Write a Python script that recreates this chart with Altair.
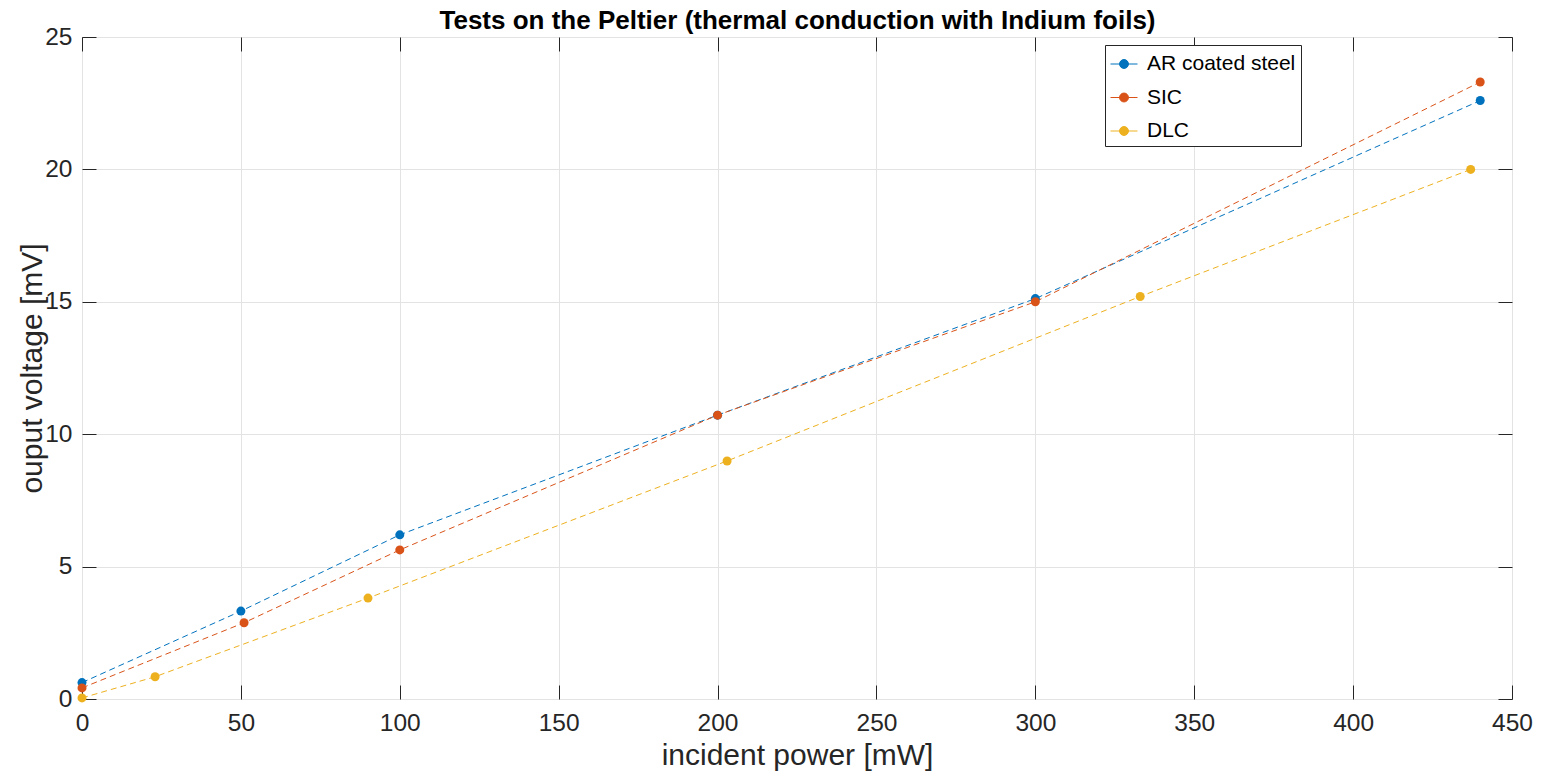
import altair as alt
import pandas as pd

chart_title = "Tests on the Peltier (thermal conduction with Indium foils)"
series_names = ["AR coated steel", "SIC", "DLC"]
series_colors = ["#0072BD", "#D95319", "#EDB120"]

ar_x = [0, 50, 100, 200, 300, 440]
ar_y = [0.62, 3.32, 6.2, 10.72, 15.12, 22.6]
sic_x = [0, 51, 100, 200, 300, 440]
sic_y = [0.42, 2.88, 5.63, 10.72, 15.0, 23.3]
dlc_x = [0, 23, 90, 203, 333, 437]
dlc_y = [0.04, 0.84, 3.81, 8.99, 15.2, 20.0]

x_ticks = [0, 50, 100, 150, 200, 250, 300, 350, 400, 450]
y_ticks = [0, 5, 10, 15, 20, 25]

rows = []
for name, xs, ys in zip(series_names, [ar_x, sic_x, dlc_x], [ar_y, sic_y, dlc_y]):
    for i, (xv, yv) in enumerate(zip(xs, ys)):
        rows.append({"series": name, "power": xv, "voltage": yv, "order": i})
df = pd.DataFrame(rows)

W, H = 1430, 662
FONT = "Liberation Sans"
INK = "#262626"
GRID = "#e3e3e3"

xscale = alt.Scale(domain=[0, 450], nice=False, zero=False)
yscale = alt.Scale(domain=[0, 25], nice=False, zero=False)

main_x = alt.Axis(
    orient="bottom", values=x_ticks, title="incident power [mW]", grid=True,
    gridColor=GRID, ticks=False, domain=False, labelFontSize=24.5, labelColor=INK,
    labelPadding=12, labelFont=FONT, labelFlush=False, titleFont=FONT, titleFontSize=30,
    titleFontWeight="normal", titleColor=INK, titleX=W / 2, titleY=65,
    titleBaseline="alphabetic", titleAlign="center",
)
main_y = alt.Axis(
    orient="left", values=y_ticks, title="ouput voltage [mV]", grid=True,
    gridColor=GRID, ticks=False, domain=False, labelFontSize=24.5, labelColor=INK,
    labelPadding=10, labelFont=FONT, labelFlush=False, titleFont=FONT, titleFontSize=30,
    titleFontWeight="normal", titleColor=INK, titleX=-41, titleY=H / 2,
    titleBaseline="alphabetic", titleAlign="center", titleAngle=-90,
)

def tick_axis(orient, offset, values, **kw):
    return alt.Axis(orient=orient, offset=offset, values=values, labels=False,
                    ticks=True, tickSize=14, tickColor=INK, tickWidth=1,
                    domain=False, grid=False, minExtent=0, maxExtent=0, **kw)

# top frame axis carries the chart title
top_axis = tick_axis(
    "bottom", -H, x_ticks, title=chart_title, titleFont=FONT, titleFontSize=26,
    titleFontWeight="bold", titleColor="black", titleX=W / 2, titleY=-9,
    titleAlign="center", titleBaseline="alphabetic",
)

sym_path = "M-1,0H1M0.33,0A0.33,0.33,0,1,1,-0.33,0A0.33,0.33,0,1,1,0.33,0Z"

color = alt.Color(
    "series:N",
    scale=alt.Scale(domain=series_names, range=series_colors),
    sort=series_names,
    legend=alt.Legend(
        orient="none", legendX=1023, legendY=8, title=None,
        symbolType=sym_path, symbolSize=729, symbolStrokeWidth=1,
        labelFontSize=21, labelFont=FONT, labelColor="black",
        strokeColor=INK, fillColor="white", padding=5, rowPadding=9.5,
        labelOffset=9,
    ),
)

base = alt.Chart(df)

lines = base.mark_line(strokeDash=[6, 4], strokeWidth=1).encode(
    x=alt.X("power:Q", scale=xscale, axis=main_x),
    y=alt.Y("voltage:Q", scale=yscale, axis=main_y),
    color=color,
    order="order:Q",
)
points = base.mark_point(filled=True, size=81, opacity=1).encode(
    x=alt.X("power:Q", scale=xscale, axis=None),
    y=alt.Y("voltage:Q", scale=yscale, axis=None),
    color=color,
)
ticks_a = base.mark_point(opacity=0).encode(
    x=alt.X("power:Q", scale=xscale, axis=tick_axis("top", -H, x_ticks, title=None)),
    y=alt.Y("voltage:Q", scale=yscale, axis=tick_axis("right", -W, y_ticks, title=None)),
)
ticks_b = base.mark_point(opacity=0).encode(
    x=alt.X("power:Q", scale=xscale, axis=top_axis),
    y=alt.Y("voltage:Q", scale=yscale, axis=tick_axis("left", -W, y_ticks, title=None)),
)

chart = (
    alt.layer(lines, points, ticks_a, ticks_b)
    .resolve_axis(x="independent", y="independent")
    .properties(
        width=W, height=H,
        autosize=alt.AutoSizeParams(type="none"),
        padding={"left": 82, "top": 37, "right": 30, "bottom": 79},
        background="white",
    )
    .configure_view(stroke=INK, strokeWidth=1)
)

chart.save("out.html", embed_options={"renderer": "svg", "actions": False})
